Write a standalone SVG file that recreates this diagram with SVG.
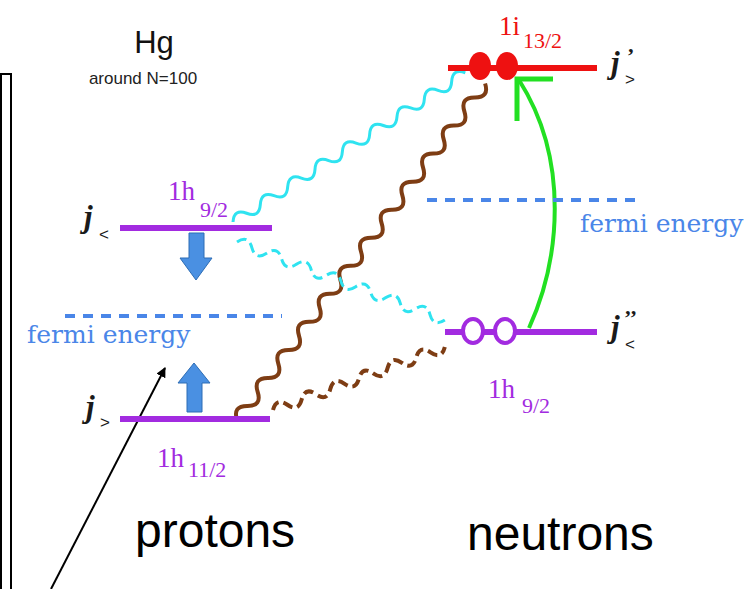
<svg xmlns="http://www.w3.org/2000/svg" width="751" height="589" viewBox="0 0 751 589">
<style>
.lvl{stroke-width:6;fill:none}
.pur{stroke:#a22be0}
.red{stroke:#ee1111}
.fermi{stroke:#4a86e8;stroke-width:4;stroke-dasharray:10 8;fill:none}
.ftxt{font-family:"DejaVu Serif",serif;font-size:25px;fill:#4a86e8}
.orb{font-family:"Liberation Serif",serif;font-size:27px}
.sub{font-family:"Liberation Serif",serif;font-size:22px}
.j{font-family:"Liberation Serif",serif;font-weight:bold;font-style:italic;font-size:31px;fill:#1a1a1a}
.js{font-family:"Liberation Sans",sans-serif;font-size:17px;fill:#1a1a1a}
.pr{font-family:"Liberation Serif",serif;font-weight:bold;font-size:22px;fill:#1a1a1a}
.big{font-family:"Liberation Sans",sans-serif;font-size:48px;fill:#000}
.cy{stroke:#2fe3f0;stroke-width:3;fill:none}
.br{stroke:#7e3d14;stroke-width:4;fill:none}
.dsh{stroke-dasharray:10 5}
.bar{fill:#4a90e2;stroke:#2d6db5;stroke-width:1}
</style>
<defs>
<marker id="ah" markerWidth="10" markerHeight="10" refX="9" refY="5" orient="auto" markerUnits="userSpaceOnUse" viewBox="0 0 10 10">
<path d="M0,0 L10,5 L0,10 z" fill="#000"/>
</marker>
</defs>

<g id="frame">
<rect x="1" y="74" width="10" height="530" fill="#fff" stroke="#000" stroke-width="2"/>
</g>

<g id="title">
<text x="154" y="53" font-family="Liberation Sans,sans-serif" font-size="31" text-anchor="middle" fill="#111">Hg</text>
<text x="143" y="84" font-family="Liberation Sans,sans-serif" font-size="17" text-anchor="middle" fill="#222">around N=100</text>
</g>

<g id="connectors">
<g transform="translate(233,222) rotate(-32.7)">
<path class="cy" d="M0,0 q8.12,-11 16.24,0 t16.24,0 t16.24,0 t16.24,0 t16.24,0 t16.24,0 t16.24,0 t16.24,0 t16.24,0 t16.24,0 t16.24,0 t16.24,0 t16.24,0 t16.24,0 t16.24,0 t16.24,0 t16.24,0"/>
</g>
<g transform="translate(237,420) rotate(-53.6)">
<path class="br" d="M0,0 q8.71,-12 17.42,0 t17.42,0 t17.42,0 t17.42,0 t17.42,0 t17.42,0 t17.42,0 t17.42,0 t17.42,0 t17.42,0 t17.42,0 t17.42,0 t17.42,0 t17.42,0 t17.42,0 t17.42,0 t17.42,0 t17.42,0 t17.42,0 t17.42,0 t17.42,0 t17.42,0 t17.42,0 t17.42,0"/>
</g>
<g transform="translate(237,242) rotate(20.6)">
<path class="cy dsh" d="M0,0 q7.93,-11 15.86,0 t15.86,0 t15.86,0 t15.86,0 t15.86,0 t15.86,0 t15.86,0 t15.86,0 t15.86,0 t15.86,0 t15.86,0 t15.86,0 t15.86,0 t15.86,0"/>
</g>
<g transform="translate(273,410) rotate(-20.1)">
<path class="br dsh" d="M0,0 q7.62,-11 15.25,0 t15.25,0 t15.25,0 t15.25,0 t15.25,0 t15.25,0 t15.25,0 t15.25,0 t15.25,0 t15.25,0 t15.25,0 t15.25,0"/>
</g>
<path d="M529,328 C560,260 570,160 519,80" stroke="#22e022" stroke-width="4" fill="none"/>
<polyline points="553,79 517,79 517,121" stroke="#22e022" stroke-width="5" fill="none"/>
<line x1="51" y1="589" x2="165" y2="368" stroke="#000" stroke-width="2" marker-end="url(#ah)"/>
</g>

<g id="fermi-left">
<line class="fermi" x1="65" y1="316" x2="282" y2="316" stroke-dasharray="4 8 10 8"/>
<text class="ftxt" x="27" y="343">fermi energy</text>
</g>

<g id="fermi-right">
<line class="fermi" x1="427" y1="200" x2="642" y2="200" stroke-dasharray="4 8 10 8"/>
<text class="ftxt" x="580" y="232">fermi energy</text>
</g>

<g id="proton-1h92">
<line class="lvl pur" x1="120" y1="228" x2="272" y2="228"/>
<text class="orb" x="168" y="200" fill="#a22be0">1h</text>
<text class="sub" x="200" y="217" fill="#a22be0">9/2</text>
<text class="j" x="84" y="227">j</text>
<text class="js" x="99" y="240">&lt;</text>
<path class="bar" d="M189,233 h15 v25 h8 l-16,22 l-16,-22 h9 z"/>
</g>

<g id="proton-1h112">
<line class="lvl pur" x1="120" y1="419" x2="270" y2="419"/>
<text class="orb" x="157" y="467" fill="#a22be0">1h</text>
<text class="sub" x="188" y="477" fill="#a22be0">11/2</text>
<text class="j" x="86" y="417">j</text>
<text class="js" x="100" y="428">&gt;</text>
<path class="bar" d="M187,412 v-29 h-9 l16,-20 l16,20 h-8 v29 z"/>
</g>

<g id="neutron-1i132">
<line class="lvl red" x1="448" y1="68" x2="597" y2="68"/>
<ellipse cx="480" cy="66" rx="11" ry="14" fill="#ee1111"/>
<ellipse cx="507" cy="66" rx="11" ry="14" fill="#ee1111"/>
<text class="orb" x="499" y="35" fill="#ee1111">1i</text>
<text class="sub" x="523" y="48" fill="#ee1111">13/2</text>
<text class="j" x="611" y="73">j</text>
<text class="pr" x="627" y="63">’</text>
<text class="js" x="625" y="85">&gt;</text>
</g>

<g id="neutron-1h92">
<line class="lvl pur" x1="445" y1="332" x2="597" y2="332"/>
<ellipse cx="473" cy="331" rx="10" ry="12" fill="#fff" stroke="#a22be0" stroke-width="4"/>
<ellipse cx="505" cy="331" rx="10" ry="12" fill="#fff" stroke="#a22be0" stroke-width="4"/>
<text class="orb" x="488" y="398" fill="#a22be0">1h</text>
<text class="sub" x="522" y="413" fill="#a22be0">9/2</text>
<text class="j" x="611" y="337">j</text>
<text class="pr" x="624" y="325">’’</text>
<text class="js" x="625" y="350">&lt;</text>
</g>

<g id="labels">
<text class="big" x="135" y="547">protons</text>
<text class="big" x="467" y="550">neutrons</text>
</g>
</svg>
